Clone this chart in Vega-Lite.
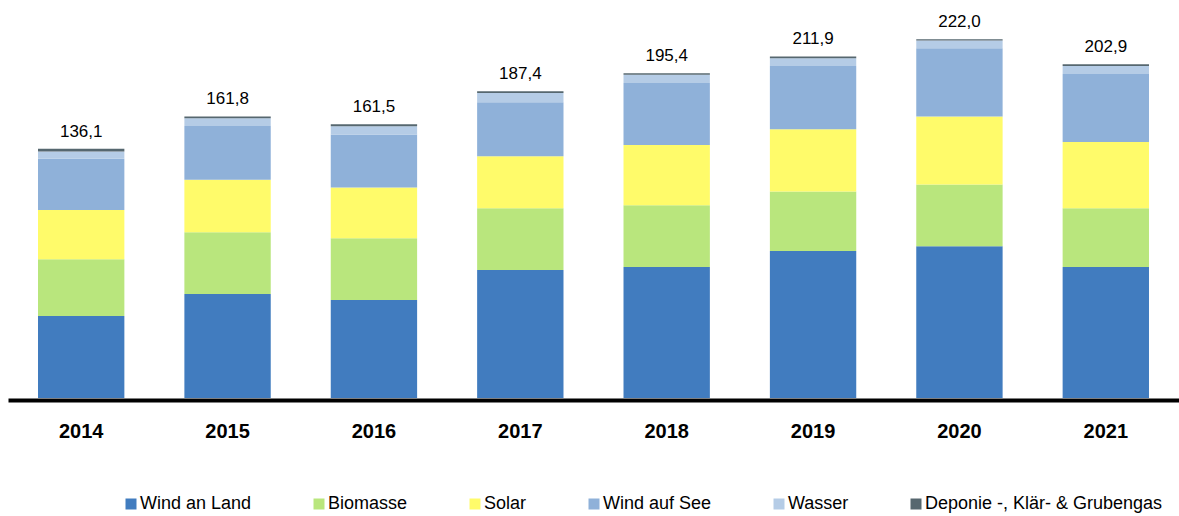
{
  "$schema": "https://vega.github.io/schema/vega-lite/v6.json",
  "autosize": "none",
  "width": 1171,
  "height": 388,
  "padding": {"left": 8, "top": 10, "right": 0, "bottom": 118},
  "background": "white",
  "config": {
    "view": {"stroke": null},
    "locale": {"number": {"decimal": ",", "thousands": ".", "grouping": [3], "currency": ["", " €"]}},
    "font": "Liberation Sans"
  },
  "datasets": {
    "sources": [
      {"source": "Wind an Land", "rank": 1},
      {"source": "Biomasse", "rank": 2},
      {"source": "Solar", "rank": 3},
      {"source": "Wind auf See", "rank": 4},
      {"source": "Wasser", "rank": 5},
      {"source": "Deponie -, Klär- & Grubengas", "rank": 6}
    ],
    "values": [
      {"year": "2014", "source": "Wind an Land", "value": 50.7, "total": 136.1},
      {"year": "2014", "source": "Biomasse", "value": 35.1, "total": 136.1},
      {"year": "2014", "source": "Solar", "value": 30.5, "total": 136.1},
      {"year": "2014", "source": "Wind auf See", "value": 31.7, "total": 136.1},
      {"year": "2014", "source": "Wasser", "value": 4.5, "total": 136.1},
      {"year": "2014", "source": "Deponie -, Klär- & Grubengas", "value": 1.7, "total": 136.1},
      {"year": "2015", "source": "Wind an Land", "value": 64.3, "total": 161.8},
      {"year": "2015", "source": "Biomasse", "value": 38.3, "total": 161.8},
      {"year": "2015", "source": "Solar", "value": 32.4, "total": 161.8},
      {"year": "2015", "source": "Wind auf See", "value": 33.2, "total": 161.8},
      {"year": "2015", "source": "Wasser", "value": 4.9, "total": 161.8},
      {"year": "2015", "source": "Deponie -, Klär- & Grubengas", "value": 1.1, "total": 161.8},
      {"year": "2016", "source": "Wind an Land", "value": 60.6, "total": 161.5},
      {"year": "2016", "source": "Biomasse", "value": 38.2, "total": 161.5},
      {"year": "2016", "source": "Solar", "value": 31.4, "total": 161.5},
      {"year": "2016", "source": "Wind auf See", "value": 32.8, "total": 161.5},
      {"year": "2016", "source": "Wasser", "value": 5.1, "total": 161.5},
      {"year": "2016", "source": "Deponie -, Klär- & Grubengas", "value": 1.2, "total": 161.5},
      {"year": "2017", "source": "Wind an Land", "value": 79.2, "total": 187.4},
      {"year": "2017", "source": "Biomasse", "value": 38.2, "total": 187.4},
      {"year": "2017", "source": "Solar", "value": 32.2, "total": 187.4},
      {"year": "2017", "source": "Wind auf See", "value": 33.4, "total": 187.4},
      {"year": "2017", "source": "Wasser", "value": 5.6, "total": 187.4},
      {"year": "2017", "source": "Deponie -, Klär- & Grubengas", "value": 1.2, "total": 187.4},
      {"year": "2018", "source": "Wind an Land", "value": 81.0, "total": 195.4},
      {"year": "2018", "source": "Biomasse", "value": 38.2, "total": 195.4},
      {"year": "2018", "source": "Solar", "value": 37.3, "total": 195.4},
      {"year": "2018", "source": "Wind auf See", "value": 38.3, "total": 195.4},
      {"year": "2018", "source": "Wasser", "value": 5.2, "total": 195.4},
      {"year": "2018", "source": "Deponie -, Klär- & Grubengas", "value": 0.8, "total": 195.4},
      {"year": "2019", "source": "Wind an Land", "value": 90.9, "total": 211.9},
      {"year": "2019", "source": "Biomasse", "value": 36.9, "total": 211.9},
      {"year": "2019", "source": "Solar", "value": 38.5, "total": 211.9},
      {"year": "2019", "source": "Wind auf See", "value": 39.0, "total": 211.9},
      {"year": "2019", "source": "Wasser", "value": 4.9, "total": 211.9},
      {"year": "2019", "source": "Deponie -, Klär- & Grubengas", "value": 1.1, "total": 211.9},
      {"year": "2020", "source": "Wind an Land", "value": 93.8, "total": 222.0},
      {"year": "2020", "source": "Biomasse", "value": 38.2, "total": 222.0},
      {"year": "2020", "source": "Solar", "value": 42.1, "total": 222.0},
      {"year": "2020", "source": "Wind auf See", "value": 42.2, "total": 222.0},
      {"year": "2020", "source": "Wasser", "value": 4.8, "total": 222.0},
      {"year": "2020", "source": "Deponie -, Klär- & Grubengas", "value": 0.8, "total": 222.0},
      {"year": "2021", "source": "Wind an Land", "value": 81.0, "total": 202.9},
      {"year": "2021", "source": "Biomasse", "value": 36.3, "total": 202.9},
      {"year": "2021", "source": "Solar", "value": 41.0, "total": 202.9},
      {"year": "2021", "source": "Wind auf See", "value": 42.1, "total": 202.9},
      {"year": "2021", "source": "Wasser", "value": 4.9, "total": 202.9},
      {"year": "2021", "source": "Deponie -, Klär- & Grubengas", "value": 1.2, "total": 202.9}
    ]
  },
  "data": {"name": "values"},
  "layer": [
    {
      "transform": [
        {"lookup": "source", "from": {"data": {"name": "sources"}, "key": "source", "fields": ["rank"]}}
      ],
      "mark": {"type": "bar"},
      "encoding": {
        "x": {
          "field": "year", "type": "nominal",
          "scale": {"paddingInner": 0.41, "paddingOuter": 0.205},
          "axis": {
            "title": null, "ticks": false, "tickSize": 0, "labelAngle": 0,
            "labelFont": "Liberation Sans", "labelFontSize": 20, "labelFontWeight": "bold",
            "labelColor": "#000000", "labelPadding": 21, "offset": 2,
            "domainColor": "#000000", "domainWidth": 4, "grid": false
          }
        },
        "y": {
          "field": "value", "type": "quantitative", "aggregate": "sum",
          "stack": "zero",
          "scale": {"domain": [0, 240], "nice": false},
          "axis": null
        },
        "color": {
          "field": "source", "type": "nominal",
          "sort": ["Wind an Land", "Biomasse", "Solar", "Wind auf See", "Wasser", "Deponie -, Klär- & Grubengas"],
          "scale": {
            "domain": ["Wind an Land", "Biomasse", "Solar", "Wind auf See", "Wasser", "Deponie -, Klär- & Grubengas"],
            "range": ["#417CBF", "#B9E67D", "#FFFB6A", "#8FB1D9", "#B5CCE6", "#56676F"]
          },
          "legend": {
            "title": null, "orient": "none", "direction": "horizontal",
            "legendX": 114, "legendY": 485,
            "symbolType": "square", "symbolSize": 121, "symbolStrokeWidth": 0,
            "labelFont": "Liberation Sans", "labelFontSize": 18, "labelColor": "#000000",
            "labelOffset": 0, "columnPadding": 58, "padding": 0, "labelLimit": 400
          }
        },
        "order": {"field": "rank", "type": "quantitative", "sort": "ascending"}
      }
    },
    {
      "transform": [
        {"aggregate": [{"op": "sum", "field": "value", "as": "top"}], "groupby": ["year", "total"]}
      ],
      "mark": {"type": "text", "baseline": "alphabetic", "dy": -12, "fontSize": 17, "font": "Liberation Sans", "color": "#000000"},
      "encoding": {
        "x": {"field": "year", "type": "nominal"},
        "y": {"field": "top", "type": "quantitative"},
        "text": {"field": "total", "type": "quantitative", "format": ".1f"}
      }
    }
  ]
}
